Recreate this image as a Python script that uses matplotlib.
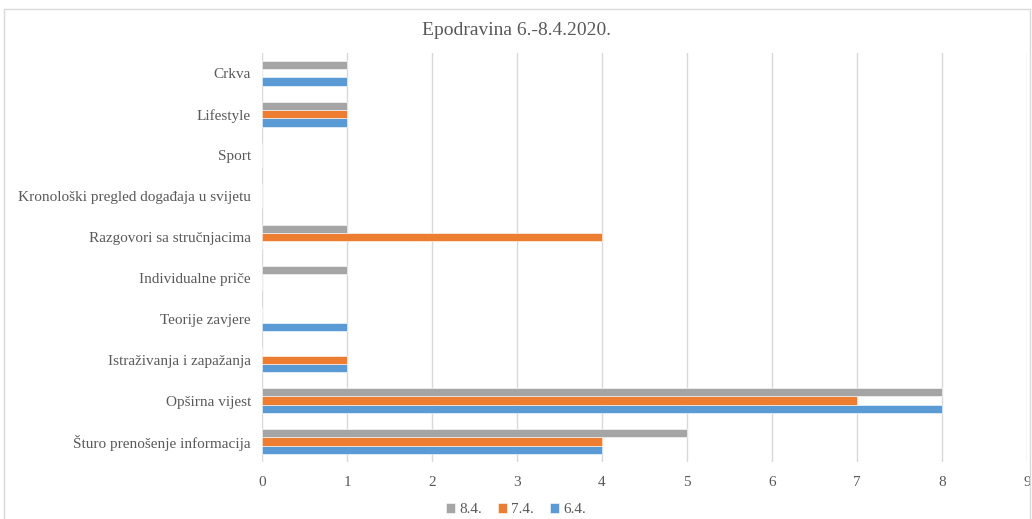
import numpy as np
import matplotlib
matplotlib.use("Agg")
import matplotlib.pyplot as plt
from matplotlib.patches import Rectangle

categories = ["Šturo prenošenje informacija", "Opširna vijest", "Istraživanja i zapažanja",
              "Teorije zavjere", "Individualne priče", "Razgovori sa stručnjacima",
              "Kronološki pregled događaja u svijetu", "Sport", "Lifestyle", "Crkva"]
d64 = [4, 8, 1, 1, 0, 0, 0, 0, 1, 1]
d74 = [4, 7, 1, 0, 0, 4, 0, 0, 1, 0]
d84 = [5, 8, 0, 0, 1, 1, 0, 0, 1, 1]

plt.rcParams['font.family'] = ['Liberation Serif', 'DejaVu Serif']
txt = '#595959'

fig = plt.figure(figsize=(10.32, 5.19), dpi=100)
ax = fig.add_axes([0.254, 0.110, 0.741, 0.788])

y = np.arange(len(categories))
h = 0.2
ax.barh(y - h, d64, height=h, color='#5B9BD5', edgecolor='white', linewidth=0.4, label='6.4.')
ax.barh(y, d74, height=h, color='#ED7D31', edgecolor='white', linewidth=0.4, label='7.4.')
ax.barh(y + h, d84, height=h, color='#A5A5A5', edgecolor='white', linewidth=0.4, label='8.4.')

ax.set_xlim(0, 9)
ax.set_ylim(-0.5, len(categories) - 0.5)
ax.set_xticks(range(10))
ax.set_yticks(y)
ax.set_yticklabels(categories)
ax.tick_params(length=0, labelsize=11, colors=txt, pad=8)
ax.tick_params(axis='x', pad=10)
ax.grid(axis='x', color='#D9D9D9', linewidth=1)
ax.set_axisbelow(True)
for s in ax.spines.values():
    s.set_visible(False)

fig.text(0.5, 0.942, "Epodravina 6.-8.4.2020.", ha='center', va='center', fontsize=14, color=txt)

handles, labels = ax.get_legend_handles_labels()
leg = fig.legend(handles[::-1], labels[::-1], loc='center', bbox_to_anchor=(0.5, 0.018),
                 ncol=3, frameon=False, fontsize=11, handlelength=0.6, handleheight=0.6,
                 handletextpad=0.3, columnspacing=1.0, labelcolor=txt)

fig.patches.append(Rectangle((0.004, -0.01), 0.994, 0.993, transform=fig.transFigure,
                             fill=False, edgecolor='#D9D9D9', linewidth=1))

fig.savefig("out.png", dpi=100)
